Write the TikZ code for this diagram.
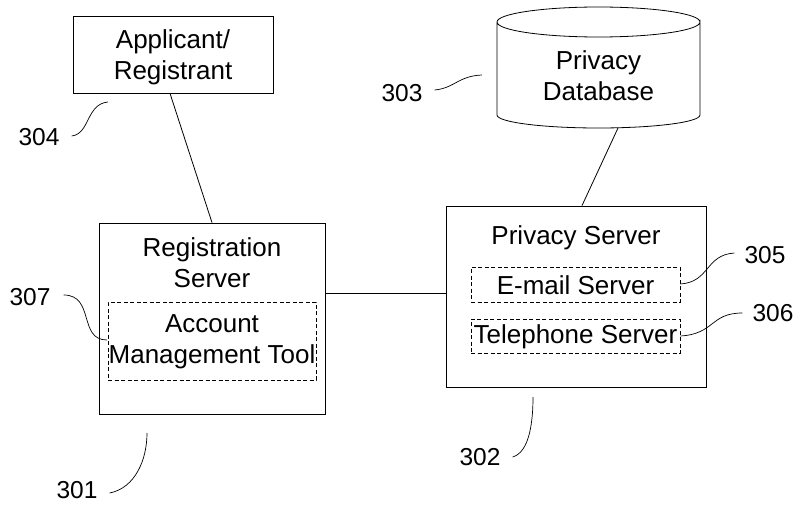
\documentclass[tikz,border=0pt]{standalone}
\usepackage{fontspec}
\setmainfont{Liberation Sans}
\usetikzlibrary{calc}
\begin{document}
\begin{tikzpicture}[x=1pt,y=-1pt,
  box/.style={draw, line width=0.8pt, inner sep=0pt},
  dbox/.style={draw, line width=0.7pt, dash pattern=on 4pt off 2.5pt, inner sep=0pt},
  txt/.style={font=\fontsize{26}{31}\selectfont, align=center, inner sep=0pt},
  num/.style={font=\fontsize{24.5}{28}\selectfont, inner sep=0pt},
  lead/.style={line width=0.7pt},
  conn/.style={line width=0.8pt}]
\useasboundingbox (0,0) rectangle (794,508);
% Applicant
\node[box, minimum width=200pt, minimum height=77pt] (app) at (173,54.5) {};
\node[txt] (appt) at (173,57) {Applicant/\\Registrant};
% Registration server
\node[box, minimum width=226pt, minimum height=191pt] (rs) at (212,318.5) {};
\node[txt] (rst) at (212,262.5) {Registration\\Server};
\node[dbox, minimum width=208pt, minimum height=78pt] (amt) at (212,341) {};
\node[txt] (amtt) at (212,342) {Account\\Management Tool};
% Privacy server
\node[box, minimum width=260pt, minimum height=181pt] (ps) at (576,296.5) {};
\node[txt] (pst) at (576,238) {Privacy Server};
\node[dbox, minimum width=209pt, minimum height=35pt] (em) at (575.5,284.5) {};
\node[txt] (emt) at (575.5,285) {E-mail Server};
\node[dbox, minimum width=209pt, minimum height=34pt] (tel) at (575.5,336) {};
\node[txt] (telt) at (575.5,337) {Telephone Server};
% Database cylinder
\draw[line width=0.8pt] (497,22) -- (497,115) arc[start angle=180, end angle=360, x radius=101.5pt, y radius=13pt] -- (700,22) arc[start angle=0, end angle=-180, x radius=101.5pt, y radius=15pt] arc[start angle=180, end angle=0, x radius=101.5pt, y radius=15pt];
\node[txt] (db) at (598.5,76) {Privacy\\Database};
\coordinate (dbbot) at (618,128);
% connectors
\draw[conn] ($(app.south)+(-3,0)$) -- (rs.north);
\draw[conn] (dbbot) -- ($(ps.north)+(6,0)$);
\coordinate (hl) at (0,293);
\draw[conn] (rs.east |- hl) -- (ps.west |- hl);
% labels
\node[num] (l304) at (39,137) {304};
\coordinate (t304) at (108,102);
\draw[lead] ($(l304.east)+(12,-1)$) .. controls (90,134) and (86,104) .. (t304);
\node[num] (l303) at (402,93) {303};
\coordinate (t303) at (482,75);
\draw[lead] ($(l303.east)+(12,-3)$) .. controls (455,88) and (458,76) .. (t303);
\node[num] (l307) at (30,297) {307};
\coordinate (t307) at (107,340);
\draw[lead] ($(l307.east)+(13,-2)$) .. controls (95,295) and (78,340) .. (t307);
\node[num] (l301) at (77,490) {301};
\coordinate (t301) at (147,433);
\draw[lead] ($(l301.east)+(12,3)$) .. controls (135,488) and (147,460) .. (t301);
\node[num] (l302) at (480,457) {302};
\coordinate (t302) at (533,397);
\draw[lead] ($(l302.east)+(12,0)$) .. controls (530,452) and (533,420) .. (t302);
\node[num] (l305) at (765,255) {305};
\draw[lead] (em.east |- 0,284) .. controls (710,282) and (705,255) .. ($(l305.west)+(-10,-2)$);
\node[num] (l306) at (773,313) {306};
\draw[lead] (tel.east |- 0,336) .. controls (715,334) and (710,313) .. ($(l306.west)+(-10,0)$);
\end{tikzpicture}
\end{document}
